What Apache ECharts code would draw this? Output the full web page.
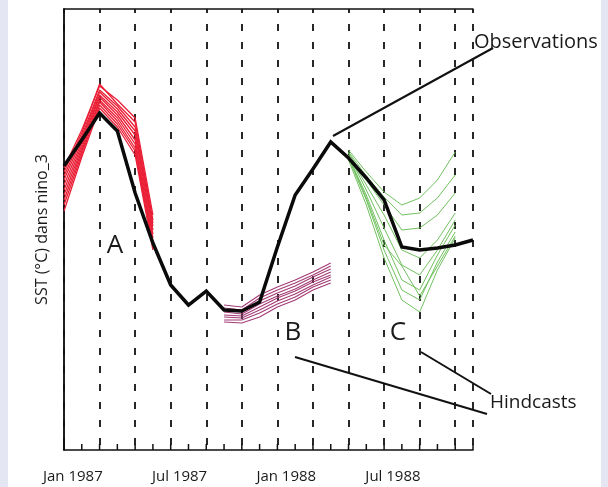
<!DOCTYPE html>
<html><head><meta charset="utf-8">
<script src="https://cdn.jsdelivr.net/npm/echarts@6/dist/echarts.min.js"></script>
<style>html,body{margin:0;padding:0;background:#fff}#c{width:608px;height:487px}</style>
</head><body><div id="c"></div>
<script>
// Month categories (Jan 1987 .. Nov 1988), label shown every 6 months
const months = ['Jan 1987','Feb 1987','Mar 1987','Apr 1987','May 1987','Jun 1987','Jul 1987','Aug 1987','Sep 1987','Oct 1987','Nov 1987','Dec 1987',
  'Jan 1988','Feb 1988','Mar 1988','Apr 1988','May 1988','Jun 1988','Jul 1988','Aug 1988','Sep 1988','Oct 1988','Nov 1988'];
const shownLabels = ['Jan 1987','Jul 1987','Jan 1988','Jul 1988'];

// Observed SST (°C) at month boundaries 0..23
const observations = [26.86,27.38,27.92,27.56,26.32,25.32,24.48,24.08,24.36,23.98,23.96,24.14,25.24,26.28,26.80,27.34,27.02,26.62,26.18,25.24,25.18,25.22,25.28,25.38];

// Hindcast A (start month 0)
const hindcastAStart = 0;
const hindcastA = [
  [26.82,27.58,28.46,28.18,27.82,25.88],
  [26.74,27.52,28.50,28.10,27.74,25.78],
  [26.66,27.46,28.38,28.06,27.64,25.72],
  [26.58,27.40,28.34,28.00,27.56,25.66],
  [26.48,27.34,28.28,27.94,27.48,25.58],
  [26.38,27.28,28.24,27.88,27.38,25.50],
  [26.28,27.22,28.18,27.82,27.30,25.42],
  [26.18,27.16,28.14,27.76,27.22,25.34],
  [26.08,27.10,28.08,27.70,27.16,25.26],
  [25.96,27.04,28.02,27.64,27.08,25.18]
];
// Hindcast B (start month 9)
const hindcastBStart = 9;
const hindcastB = [
  [24.08,24.04,24.28,24.44,24.58,24.74,24.92],
  [24.02,23.98,24.22,24.38,24.52,24.68,24.86],
  [23.98,23.94,24.16,24.32,24.46,24.64,24.80],
  [23.94,23.90,24.10,24.26,24.40,24.58,24.74],
  [23.88,23.86,24.04,24.22,24.36,24.54,24.68],
  [23.84,23.82,23.98,24.16,24.30,24.48,24.64],
  [23.78,23.78,23.92,24.10,24.24,24.44,24.58],
  [23.74,23.72,23.84,24.04,24.18,24.38,24.52]
];
// Hindcast C (start month 16)
const hindcastCStart = 16;
const hindcastC = [
  [27.18,26.74,26.34,26.08,26.22,26.58,27.14],
  [27.14,26.66,26.24,25.88,25.92,26.22,26.68],
  [27.12,26.58,26.08,25.58,25.62,25.88,26.32],
  [27.08,26.48,25.88,25.18,25.02,25.38,25.92],
  [27.08,26.38,25.62,24.88,24.68,25.18,25.78],
  [27.04,26.28,25.38,24.58,24.38,25.08,25.68],
  [27.02,26.18,25.18,24.38,24.18,24.94,25.54],
  [26.98,26.08,25.02,24.18,23.94,24.78,25.42],
  [27.06,26.22,25.28,24.86,24.26,24.86,25.46]
];

const Y_MIN = 21.18, Y_MAX = 30;
const FONT = '"Open Sans", "Noto Sans", sans-serif';
function toPairs(vals, start){ return vals.map((v,i)=>[start+i, v]); }
function ens(members, start, color, w){
  return members.map(m=>({type:'line', xAxisIndex:0, yAxisIndex:0, data: toPairs(m,start), symbol:'none', silent:true,
    lineStyle:{color:color, width:w}, z:2}));
}

// monthly tick marks on the bottom axis (one per month boundary)
const tickSeries = {
  type:'custom', xAxisIndex:0, yAxisIndex:0, silent:true, clip:false, z:6,
  data: months.map((m,i)=>[i]).concat([[months.length]]),
  renderItem: function(params, api){
    const p = api.coord([api.value(0), Y_MIN]);
    return {type:'line', shape:{x1:p[0], y1:p[1], x2:p[0], y2:p[1]-6},
      style:{stroke:'#111', lineWidth:1.5}};
  }
};

const series = [].concat(
  ens(hindcastA, hindcastAStart, '#ea1f36', 1.3),
  ens(hindcastB, hindcastBStart, '#a23b76', 1.1),
  ens(hindcastC, hindcastCStart, '#72c160', 1),
  [{type:'line', xAxisIndex:0, yAxisIndex:0, data: toPairs(observations,0), symbol:'none', silent:true,
    lineStyle:{color:'#0a0a0a', width:3.5, join:'miter'}, z:5}],
  [tickSeries]
);

const boxLine = {show:true, lineStyle:{color:'#111', width:1.5}};
const chart = echarts.init(document.getElementById('c'), null, {renderer:'canvas'});
chart.setOption({
  animation:false,
  backgroundColor:'#ffffff',
  grid:{left:64, top:9, right:135, bottom:37},
  xAxis:[
    {type:'value', min:0, max:23, interval:2, position:'bottom',
      axisLine:boxLine, axisTick:{show:false}, axisLabel:{show:false},
      splitLine:{show:true, lineStyle:{color:'#111', width:1.8, type:[7,11], dashOffset:3}}},
    {type:'category', data:months, boundaryGap:true, position:'bottom',
      axisLine:{show:false}, axisTick:{show:false}, splitLine:{show:false},
      axisLabel:{show:true, margin:19, fontFamily:FONT, fontSize:15, color:'#1a1a1a',
        interval:(i,v)=>shownLabels.indexOf(v)>=0}},
    {type:'value', min:0, max:23, position:'top', axisLine:boxLine,
      axisTick:{show:false}, axisLabel:{show:false}, splitLine:{show:false}}
  ],
  yAxis:[
    {type:'value', min:Y_MIN, max:Y_MAX, position:'left',
      name:'SST (°C) dans nino_3', nameLocation:'middle', nameGap:14,
      nameTextStyle:{fontFamily:FONT, fontSize:16, color:'#1a1a1a'},
      axisLine:boxLine, axisTick:{show:false}, axisLabel:{show:false}, splitLine:{show:false}},
    {type:'value', min:Y_MIN, max:Y_MAX, position:'right', axisLine:boxLine,
      axisTick:{show:false}, axisLabel:{show:false}, splitLine:{show:false}}
  ],
  series: series,
  graphic:[
    {type:'rect', left:0, top:0, shape:{width:8, height:487}, style:{fill:'#e4e6f4'}, silent:true},
    {type:'rect', left:601, top:0, shape:{width:7, height:487}, style:{fill:'#e4e6f4'}, silent:true},
    {type:'line', shape:{x1:333, y1:136, x2:493, y2:48}, style:{stroke:'#111', lineWidth:2}, z:10},
    {type:'line', shape:{x1:295, y1:357, x2:487, y2:414}, style:{stroke:'#111', lineWidth:2}, z:10},
    {type:'line', shape:{x1:421, y1:352, x2:491, y2:394}, style:{stroke:'#111', lineWidth:2}, z:10},
    {type:'text', x:474, y:42, style:{text:'Observations', font:'20px "Open Sans", sans-serif', fill:'#1a1a1a', textVerticalAlign:'middle'}, z:10},
    {type:'text', x:490, y:403, style:{text:'Hindcasts', font:'19px "Open Sans", sans-serif', fill:'#1a1a1a', textVerticalAlign:'middle'}, z:10},
    {type:'text', x:115, y:246, style:{text:'A', font:'26px "Open Sans", sans-serif', fill:'#1a1a1a', textAlign:'center', textVerticalAlign:'middle'}, z:10},
    {type:'text', x:293, y:333, style:{text:'B', font:'26px "Open Sans", sans-serif', fill:'#1a1a1a', textAlign:'center', textVerticalAlign:'middle'}, z:10},
    {type:'text', x:398, y:333, style:{text:'C', font:'26px "Open Sans", sans-serif', fill:'#1a1a1a', textAlign:'center', textVerticalAlign:'middle'}, z:10}
  ]
});
</script></body></html>
